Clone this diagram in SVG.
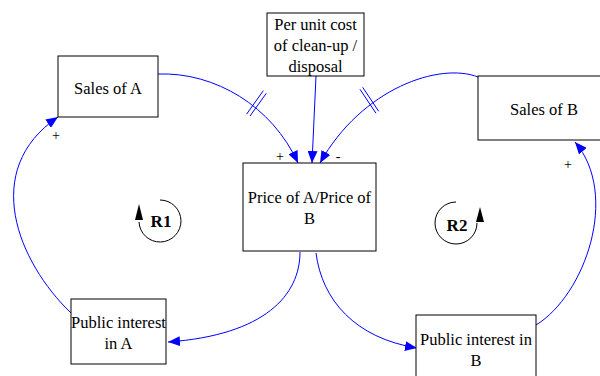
<svg xmlns="http://www.w3.org/2000/svg" width="600" height="376" viewBox="0 0 600 376">
<defs>
<style>
.box{fill:#fff;stroke:#000;stroke-width:1}
text{font-family:'Liberation Serif','DejaVu Serif','Times New Roman',Times,serif;fill:#000;text-anchor:middle}
.t{font-size:16.5px}
.s{font-size:14px}
.r{font-size:17px;font-weight:bold}
.c{fill:none;stroke:#0000ff;stroke-width:1}
.h{fill:none;stroke:#0000ff;stroke-width:1}
.loop{fill:none;stroke:#000;stroke-width:1}
</style>
<marker id="arr" viewBox="0 0 12 10" refX="12" refY="5" markerWidth="12" markerHeight="10" markerUnits="userSpaceOnUse" orient="auto">
<path d="M0,0 L12,5 L0,10 Z" fill="#0000ff"/>
</marker>
</defs>
<rect width="600" height="376" fill="#fff"/>
<g id="connectors">
<path class="c" d="M158,74 C215,72 272,106 298,163" marker-end="url(#arr)"/>
<line class="h" x1="246.7" y1="114" x2="263.3" y2="90.7"/>
<line class="h" x1="250" y1="116" x2="266.3" y2="93.3"/>
<path class="c" d="M316,76 L312,163" marker-end="url(#arr)"/>
<path class="c" d="M478,77 C440,62 362,88 320,163" marker-end="url(#arr)"/>
<line class="h" x1="360" y1="89.3" x2="376" y2="113.3"/>
<line class="h" x1="362.7" y1="87.3" x2="378.7" y2="111.3"/>
<path class="c" d="M300,252 C300,295 265,335 168,342" marker-end="url(#arr)"/>
<path class="c" d="M71,313 C18,262 -20,170 58,117" marker-end="url(#arr)"/>
<path class="c" d="M316,253 C322,300 355,338 417,348" marker-end="url(#arr)"/>
<path class="c" d="M536,325 C585,295 620,195 575,142" marker-end="url(#arr)"/>
<text class="s" x="56" y="140">+</text>
<text class="s" x="568" y="169">+</text>
<text class="s" x="280" y="161">+</text>
<text class="s" x="338" y="161">-</text>
</g>
<g id="R1">
<path class="loop" d="M160,200 A21,21 0 1 1 139,222"/>
<path d="M139,204 L135,220 L143,220 Z" fill="#000"/>
<text class="r" x="161" y="227">R1</text>
</g>
<g id="R2">
<path class="loop" d="M456,202 A21,21 0 1 0 477,223"/>
<path d="M480,207 L476,222 L484,222 Z" fill="#000"/>
<text class="r" x="457" y="231">R2</text>
</g>
<g id="sales-a">
<rect class="box" x="58" y="56" width="100" height="61"/>
<text class="t" x="108" y="94">Sales of A</text>
</g>
<g id="per-unit-cost">
<rect class="box" x="267" y="13" width="97" height="63"/>
<text class="t" x="315.5" y="30">Per unit cost</text>
<text class="t" x="315.5" y="51">of clean-up /</text>
<text class="t" x="315.5" y="72">disposal</text>
</g>
<g id="sales-b">
<rect class="box" x="478" y="76" width="132" height="64"/>
<text class="t" x="544" y="115">Sales of B</text>
</g>
<g id="price">
<rect class="box" x="243" y="163" width="133" height="88"/>
<text class="t" x="309.5" y="203">Price of A/Price of</text>
<text class="t" x="309.5" y="224">B</text>
</g>
<g id="public-a">
<rect class="box" x="71" y="299" width="95" height="65"/>
<text class="t" x="118.5" y="328">Public interest</text>
<text class="t" x="118.5" y="349">in A</text>
</g>
<g id="public-b">
<rect class="box" x="416" y="315" width="120" height="70"/>
<text class="t" x="476" y="345">Public interest in</text>
<text class="t" x="476" y="366">B</text>
</g>
</svg>
